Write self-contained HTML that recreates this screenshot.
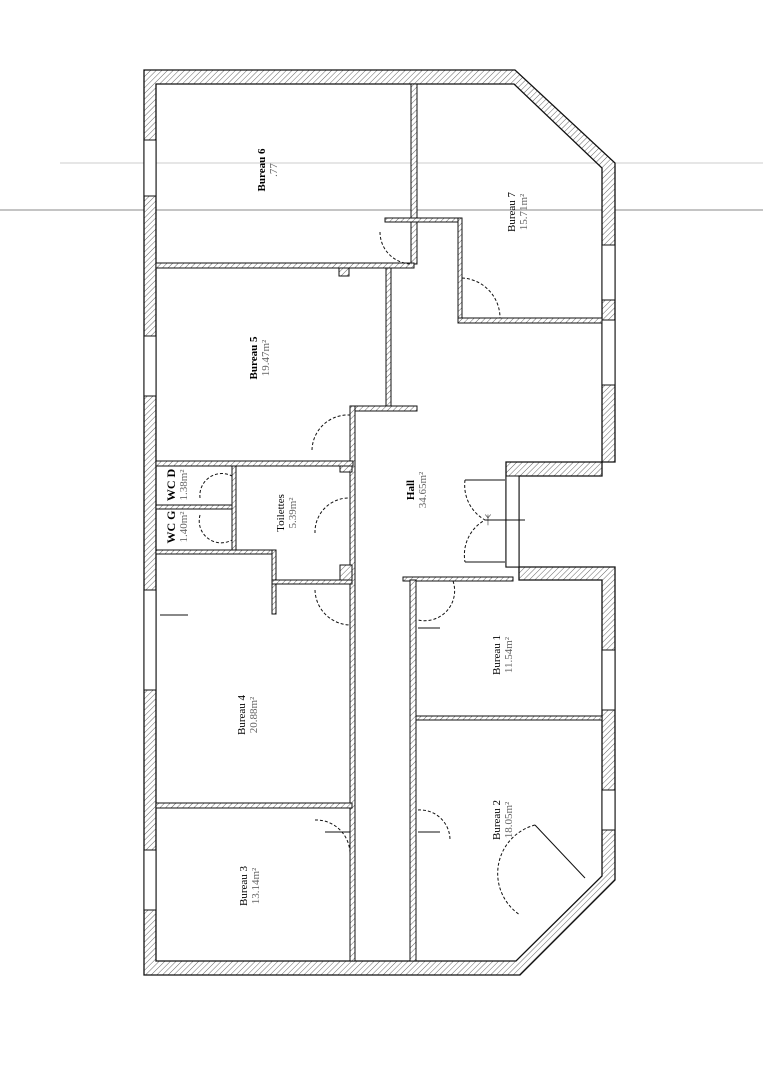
<!DOCTYPE html>
<html><head><meta charset="utf-8"><style>body{margin:0;background:#fff}svg{display:block}</style></head><body>
<svg width="763" height="1080" viewBox="0 0 763 1080" xmlns="http://www.w3.org/2000/svg" font-family="Liberation Serif, serif">
<defs>
<pattern id="h" width="4" height="4" patternUnits="userSpaceOnUse" patternTransform="rotate(45)">
<rect width="4" height="4" fill="#fff"/><line x1="0" y1="0" x2="0" y2="4" stroke="#666" stroke-width="1"/></pattern>
</defs>
<line x1="60" y1="163" x2="763" y2="163" stroke="#ccc" stroke-width="1"/>
<line x1="0" y1="210" x2="763" y2="210" stroke="#888" stroke-width="1"/>
<!-- outer wall -->
<path fill-rule="evenodd" fill="url(#h)" stroke="#111" stroke-width="1.3"
d="M144,70 L515,70 L615,163 L615,462 L506,462 L506,567 L615,567 L615,880 L520,975 L144,975 Z
 M156,84 L514,84 L602,168 L602,476 L519,476 L519,580 L602,580 L602,876 L516,961 L156,961 Z"/>
<!-- windows -->
<g fill="#fff" stroke="#111" stroke-width="1">
<rect x="144" y="140" width="12" height="56"/><rect x="144" y="336" width="12" height="60"/>
<rect x="144" y="590" width="12" height="100"/><rect x="144" y="850" width="12" height="60"/>
<rect x="602" y="245" width="13" height="55"/><rect x="602" y="320" width="13" height="65"/>
<rect x="602" y="650" width="13" height="60"/><rect x="602" y="790" width="13" height="40"/>
<rect x="506" y="476" width="13" height="91"/>
</g>
<!-- interior walls -->
<g fill="url(#h)" stroke="#111" stroke-width="1">
<rect x="411" y="84" width="6" height="180"/>
<rect x="156" y="263" width="258" height="5"/>
<rect x="385" y="218" width="76" height="4"/>
<rect x="458" y="218" width="4" height="104"/>
<rect x="458" y="318" width="144" height="5"/>
<rect x="386" y="268" width="5" height="142"/>
<rect x="352" y="406" width="65" height="5"/>
<rect x="350" y="406" width="5" height="555"/>
<rect x="156" y="461" width="197" height="5"/>
<rect x="156" y="505" width="78" height="4"/>
<rect x="232" y="466" width="4" height="86"/>
<rect x="156" y="550" width="120" height="4"/>
<rect x="272" y="550" width="4" height="64"/>
<rect x="272" y="580" width="80" height="4"/>
<rect x="403" y="577" width="110" height="4"/>
<rect x="410" y="580" width="6" height="381"/>
<rect x="416" y="716" width="186" height="4"/>
<rect x="156" y="803" width="196" height="5"/>
<rect x="340" y="466" width="12" height="6"/><rect x="340" y="565" width="12" height="15"/>
<rect x="339" y="268" width="10" height="8"/>
</g>
<!-- doors -->
<g fill="none" stroke="#111" stroke-dasharray="3,2" stroke-width="1">
<path d="M380,232 A32,32 0 0 0 412,264"/>
<path d="M462,278 A40,40 0 0 1 500,318"/>
<path d="M312,450 A36,36 0 0 1 350,415"/>
<path d="M200,498 A22,22 0 0 1 232,476"/>
<path d="M200,515 A22,22 0 0 0 232,540"/>
<path d="M315,533 A34,34 0 0 1 350,498"/>
<path d="M315,590 A36,36 0 0 0 350,625"/>
<path d="M465,480 A40,40 0 0 0 485,520 A40,40 0 0 0 465,562"/>
<path d="M453,581 A30,30 0 0 1 418,620"/>
<path d="M315,820 A34,34 0 0 1 350,855"/>
<path d="M418,810 A30,30 0 0 1 450,840"/>
<path d="M535,825 A50,50 0 0 0 520,915"/>
</g>
<g stroke="#111" stroke-width="1">
<line x1="465" y1="480" x2="505" y2="480"/><line x1="465" y1="562" x2="505" y2="562"/>
<line x1="485" y1="520" x2="525" y2="520"/>
<line x1="535" y1="825" x2="585" y2="878"/>
<line x1="418" y1="628" x2="440" y2="628"/><line x1="418" y1="832" x2="440" y2="832"/>
<line x1="325" y1="832" x2="350" y2="832"/>
<line x1="160" y1="615" x2="188" y2="615"/>
</g>
<text x="488" y="524" font-size="12" text-anchor="middle">ᛉ</text>
<!-- labels -->
<g font-size="11" text-anchor="middle">
<g transform="translate(265,170) rotate(-90)"><text y="0" font-weight="bold">Bureau 6</text><text y="12" fill="#666">.77</text></g>
<g transform="translate(515,212) rotate(-90)"><text y="0">Bureau 7</text><text y="12" fill="#666">15.71m²</text></g>
<g transform="translate(257,358) rotate(-90)"><text y="0" font-weight="bold">Bureau 5</text><text y="12" fill="#666">19.47m²</text></g>
<g transform="translate(414,490) rotate(-90)"><text y="0" font-weight="bold">Hall</text><text y="12" fill="#666">34.65m²</text></g>
<g transform="translate(284,513) rotate(-90)"><text y="0">Toilettes</text><text y="12" fill="#666">5.39m²</text></g>
<g transform="translate(175,485) rotate(-90)"><text y="0" font-weight="bold" font-size="12">WC D</text><text y="12" fill="#666">1.38m²</text></g>
<g transform="translate(175,527) rotate(-90)"><text y="0" font-weight="bold" font-size="12">WC G</text><text y="12" fill="#666">1.40m²</text></g>
<g transform="translate(245,715) rotate(-90)"><text y="0">Bureau 4</text><text y="12" fill="#666">20.88m²</text></g>
<g transform="translate(500,655) rotate(-90)"><text y="0">Bureau 1</text><text y="12" fill="#666">11.54m²</text></g>
<g transform="translate(500,820) rotate(-90)"><text y="0">Bureau 2</text><text y="12" fill="#666">18.05m²</text></g>
<g transform="translate(247,886) rotate(-90)"><text y="0">Bureau 3</text><text y="12" fill="#666">13.14m²</text></g>
</g>
</svg>
</body></html>
